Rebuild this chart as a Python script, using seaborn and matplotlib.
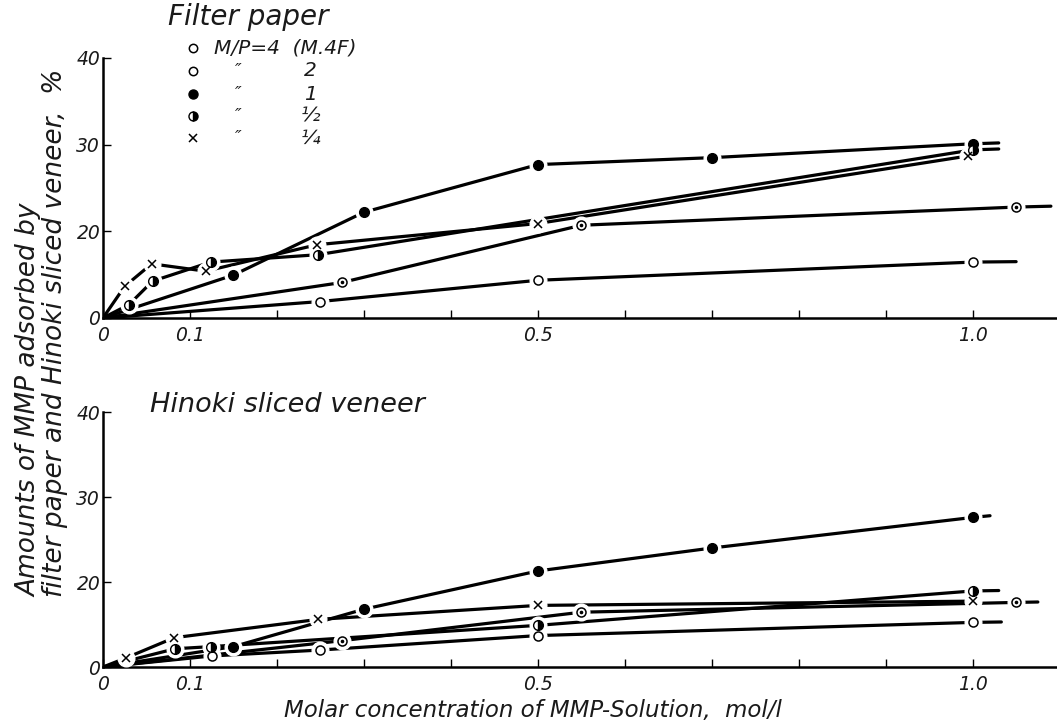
import numpy as np
import pandas as pd
import matplotlib
matplotlib.use("Agg")
import matplotlib.pyplot as plt
from matplotlib.lines import Line2D
import seaborn as sns

# ---- data: filter paper (upper panel) ----
fp_x_m4 = [0, 0.25, 0.50, 1.00]
fp_y_m4 = [0, 3.8, 8.7, 12.9]
fp_tail_m4 = [1.05, 13.0]

fp_x_m2 = [0, 0.275, 0.55, 1.05]
fp_y_m2 = [0, 8.2, 20.7, 22.8]
fp_tail_m2 = [1.09, 22.9]

fp_x_m1 = [0, 0.15, 0.30, 0.50, 0.70, 1.00]
fp_y_m1 = [0, 9.9, 22.2, 27.7, 28.5, 30.1]
fp_tail_m1 = [1.03, 30.2]

fp_x_mh = [0, 0.03, 0.057, 0.124, 0.247, 1.00]
fp_y_mh = [0, 3.1, 8.5, 12.9, 14.6, 29.4]
fp_tail_mh = [1.03, 29.5]

fp_x_mq = [0, 0.025, 0.056, 0.118, 0.246, 0.50, 0.995]
fp_y_mq = [0, 7.3, 12.5, 10.8, 16.9, 20.9, 28.7]
fp_tail_mq = None

# ---- data: Hinoki sliced veneer (lower panel) ----
hv_x_m4 = [0, 0.125, 0.25, 0.50, 1.00]
hv_y_m4 = [0, 2.6, 4.0, 7.4, 10.5]
hv_tail_m4 = [1.033, 10.6]

hv_x_m2 = [0, 0.275, 0.55, 1.05]
hv_y_m2 = [0, 6.2, 12.9, 15.2]
hv_tail_m2 = [1.075, 15.3]

hv_x_m1 = [0, 0.15, 0.30, 0.50, 0.70, 1.00]
hv_y_m1 = [0, 4.8, 13.6, 21.3, 24.0, 27.6]
hv_tail_m1 = [1.02, 27.8]

hv_x_mh = [0, 0.083, 0.124, 0.50, 1.00]
hv_y_mh = [0, 4.3, 4.8, 9.8, 17.9]
hv_tail_mh = [1.03, 18.0]

hv_x_mq = [0, 0.026, 0.082, 0.247, 0.50, 1.00]
hv_y_mq = [0, 2.1, 6.9, 11.2, 14.5, 15.5]
hv_tail_mq = None

ratio_keys = ["4", "2", "1", "1/2", "1/4"]
legend_values = ["M/P=4  (M.4F)", "2", "1", "\u00bd", "\u00bc"]

y_ticks = [0, 20, 30, 40]
x_major = [0, 0.1, 0.5, 1.0]
x_major_labels = ["0", "0.1", "0.5", "1.0"]
x_minor = [0.2, 0.3, 0.4, 0.6, 0.7, 0.8, 0.9]

panels = {
    "fp": [(fp_x_m4, fp_y_m4, fp_tail_m4), (fp_x_m2, fp_y_m2, fp_tail_m2),
           (fp_x_m1, fp_y_m1, fp_tail_m1), (fp_x_mh, fp_y_mh, fp_tail_mh),
           (fp_x_mq, fp_y_mq, fp_tail_mq)],
    "hv": [(hv_x_m4, hv_y_m4, hv_tail_m4), (hv_x_m2, hv_y_m2, hv_tail_m2),
           (hv_x_m1, hv_y_m1, hv_tail_m1), (hv_x_mh, hv_y_mh, hv_tail_mh),
           (hv_x_mq, hv_y_mq, hv_tail_mq)],
}

# marker appearance for each M/P ratio
marker_styles = {
    "4":   dict(marker="o", ms=6.5, mfc="white", mec="black", mew=1.1),
    "2":   dict(marker="o", ms=6.5, mfc="white", mec="black", mew=1.1),
    "1":   dict(marker="o", ms=7, mfc="black", mec="black", mew=1.0),
    "1/2": dict(marker="o", ms=7, mfc="black", mec="black", mew=1.0,
                fillstyle="right", markerfacecoloralt="white"),
    "1/4": dict(marker="x", ms=6, mec="black", mew=1.1),
}

sns.set_theme(style="ticks")
plt.rcParams["font.family"] = ["DejaVu Sans"]
plt.rcParams["font.style"] = "italic"

fig = plt.figure(figsize=(10.57, 7.24), dpi=100)
ax_top = fig.add_axes([0.0974, 0.5608, 0.9026, 0.3591])
ax_bot = fig.add_axes([0.0974, 0.0787, 0.9026, 0.3522])


def fwd(y):
    y = np.asarray(y, dtype=float)
    return np.where(y <= 20, y / 2.0, y - 10.0)


def inv(d):
    d = np.asarray(d, dtype=float)
    return np.where(d <= 10, d * 2.0, d + 10.0)


def draw_panel(ax, series):
    rows = []
    for key, (xs, ys, tail) in zip(ratio_keys, series):
        px = list(xs) + ([tail[0]] if tail else [])
        py = list(ys) + ([tail[1]] if tail else [])
        for i, (a, b) in enumerate(zip(px, py)):
            rows.append(dict(conc=a, amount=b, ratio=key, order=i))
    df = pd.DataFrame(rows)
    ax.set_yscale("function", functions=(fwd, inv))
    sns.lineplot(data=df, x="conc", y="amount", units="ratio", estimator=None,
                 sort=False, color="black", lw=2.3, ax=ax, legend=False,
                 zorder=2)
    # white halos break the lines around each measured point
    for key, (xs, ys, tail) in zip(ratio_keys, series):
        ax.plot(xs[1:], ys[1:], ls="none", marker="o", ms=12, mfc="white",
                mec="white", zorder=3)
    for key, (xs, ys, tail) in zip(ratio_keys, series):
        ax.plot(xs[1:], ys[1:], ls="none", zorder=4, **marker_styles[key])
        if key == "2":
            ax.plot(xs[1:], ys[1:], ls="none", marker="o", ms=1.6,
                    mfc="black", mec="black", zorder=5)

    ax.set_xlim(0, 1.097)
    ax.set_ylim(0, 40)
    ax.set_yticks(y_ticks)
    ax.set_yticklabels([str(t) for t in y_ticks])
    ax.set_xticks(x_major)
    ax.set_xticklabels(x_major_labels)
    ax.set_xticks(x_minor, minor=True)
    ax.tick_params(axis="y", which="both", direction="in", length=6,
                   width=1.0, pad=2, labelsize=13.5, color="black")
    ax.tick_params(axis="x", which="both", direction="in", length=6,
                   width=1.0, pad=6, labelsize=13.5, color="black")
    for lab in ax.get_xticklabels() + ax.get_yticklabels():
        lab.set_fontstyle("italic")
        lab.set_color("#1a1a1a")
    sns.despine(ax=ax)
    ax.spines["left"].set_linewidth(1.8)
    ax.spines["bottom"].set_linewidth(1.8)
    ax.spines["left"].set_color("black")
    ax.spines["bottom"].set_color("black")
    ax.set_xlabel("")
    ax.set_ylabel("")
    ax.patch.set_alpha(0)


draw_panel(ax_top, panels["fp"])
draw_panel(ax_bot, panels["hv"])

txt = dict(color="#1a1a1a", style="italic")

fig.text(168 / 1057, 1 - 17 / 724, "Filter paper", ha="left", va="center",
         fontsize=20, **txt)
fig.text(150 / 1057, 1 - 405 / 724, "Hinoki sliced veneer", ha="left",
         va="center", fontsize=19.5, **txt)

# legend block under the "Filter paper" heading
legend_rows_y = [48, 71, 94, 116, 138]
for i, (key, val, yy) in enumerate(zip(ratio_keys, legend_values, legend_rows_y)):
    yf = 1 - yy / 724
    style = dict(marker_styles[key])
    style["ms"] = style["ms"] - 0.5
    fig.add_artist(Line2D([193 / 1057], [yf], ls="none",
                          transform=fig.transFigure, **style))
    if i == 0:
        fig.text(214 / 1057, yf, val, ha="left", va="center", fontsize=14.5,
                 **txt)
    else:
        fig.text(238 / 1057, yf, "\u2033", ha="center", va="center",
                 fontsize=13, **txt)
        fig.text(310 / 1057, yf, val, ha="center", va="center",
                 fontsize=14.5, **txt)

fig.text(533 / 1057, 1 - 711 / 724,
         "Molar concentration of MMP-Solution,  mol/l",
         ha="center", va="center", fontsize=16.5, **txt)
fig.text(42 / 1057, 1 - 597 / 724,
         "Amounts of MMP adsorbed by\nfilter paper and Hinoki sliced veneer,  %",
         rotation=90, ha="center", va="bottom", multialignment="left",
         fontsize=19, linespacing=1.0, **txt)

fig.savefig("out.png", dpi=100)
